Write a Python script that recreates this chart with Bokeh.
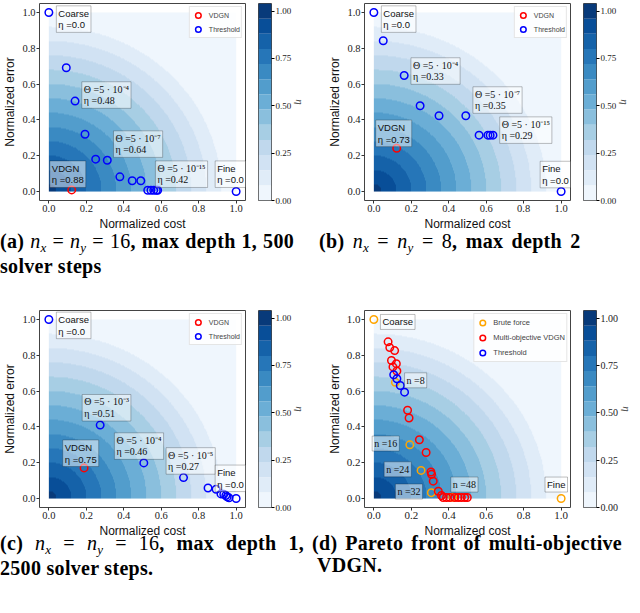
import numpy as np
from bokeh.plotting import figure
from bokeh.layouts import row, column
from bokeh.models import (Label, Legend, LegendItem, LinearColorMapper, FixedTicker,
                          NumeralTickFormatter, Div, Range1d)
from bokeh.embed import file_html
from bokeh.resources import INLINE

# ---------------- data ----------------
# (a) nx = ny = 16, max depth 1, 500 solver steps
a_thr_cost = [0.0, 0.093, 0.140, 0.193, 0.250, 0.312, 0.379, 0.445, 0.491, 0.528, 0.545, 0.560, 0.574, 0.581, 1.0]
a_thr_err = [1.0, 0.691, 0.505, 0.320, 0.181, 0.175, 0.082, 0.060, 0.060, 0.007, 0.007, 0.007, 0.007, 0.007, 0.0]
a_vdgn_cost = [0.122]
a_vdgn_err = [0.009]

# (b) nx = ny = 8, max depth 2
b_thr_cost = [0.0, 0.050, 0.162, 0.247, 0.348, 0.491, 0.562, 0.609, 0.621, 0.636, 1.0]
b_thr_err = [1.0, 0.842, 0.648, 0.479, 0.423, 0.423, 0.315, 0.315, 0.315, 0.315, 0.0]
b_vdgn_cost = [0.122]
b_vdgn_err = [0.242]

# (c) nx = ny = 16, max depth 1, 2500 solver steps
c_thr_cost = [0.0, 0.274, 0.507, 0.719, 0.850, 0.893, 0.919, 0.934, 0.945, 0.952, 0.962, 1.0]
c_thr_err = [1.0, 0.410, 0.199, 0.117, 0.059, 0.052, 0.026, 0.024, 0.017, 0.009, 0.004, 0.0]
c_vdgn_cost = [0.188]
c_vdgn_err = [0.171]

# (d) Pareto front of multi-objective VDGN
d_bf_cost = [0.0, 0.115, 0.192, 0.252, 0.307, 0.421, 1.0]
d_bf_err = [1.0, 0.649, 0.300, 0.157, 0.033, 0.007, 0.0]
d_mo_cost = [0.076, 0.085, 0.111, 0.094, 0.120, 0.102, 0.123, 0.180, 0.188, 0.243, 0.279,
             0.305, 0.308, 0.317, 0.344, 0.361, 0.370, 0.388, 0.406, 0.432, 0.450, 0.467, 0.485, 0.499]
d_mo_err = [0.875, 0.843, 0.826, 0.771, 0.753, 0.735, 0.712, 0.493, 0.450, 0.328, 0.257,
            0.148, 0.135, 0.097, 0.041, 0.017, 0.006, 0.006, 0.006, 0.006, 0.006, 0.006, 0.006, 0.006]
d_thr_cost = [0.106, 0.123, 0.141, 0.164]
d_thr_err = [0.691, 0.669, 0.631, 0.594]

axis_ticks = [0.0, 0.2, 0.4, 0.6, 0.8, 1.0]
cbar_ticks = [0.0, 0.25, 0.5, 0.75, 1.0]
levels = [0.0, 0.08, 0.16, 0.24, 0.32, 0.40, 0.48, 0.56, 0.64, 0.72, 0.80, 0.88, 0.96, 1.04]

# ---------------- style ----------------
SANS = "Liberation Sans"
SERIF = "Liberation Serif"
FW, FH = 206, 197

blues_anchor = np.array([[247, 251, 255], [222, 235, 247], [198, 219, 239], [158, 202, 225],
                         [107, 174, 214], [66, 146, 198], [33, 113, 181], [8, 81, 156], [8, 48, 107]], float)


def blues(t):
    pos = np.linspace(0, 1, len(blues_anchor))
    rgb = [np.interp(t, pos, blues_anchor[:, k]) for k in range(3)]
    return "#%02x%02x%02x" % tuple(int(round(v)) for v in rgb)


nb = len(levels) - 1
palette = [blues((i + 0.5) / nb) for i in range(nb)]
mapper = LinearColorMapper(palette=palette, low=levels[0], high=levels[-1])

# eta = 1 - distance to the ideal point (0, 0)
g = np.linspace(0, 1, 600)
GX, GY = np.meshgrid(g, g)
ETA = 1.0 - np.sqrt(GX ** 2 + GY ** 2)


def style_axis(ax, tick_size, label_size):
    ax.ticker = FixedTicker(ticks=axis_ticks)
    ax.formatter = NumeralTickFormatter(format="0.0")
    ax.major_label_text_font = SERIF
    ax.major_label_text_font_size = tick_size
    ax.major_label_text_color = "#222222"
    ax.axis_label_text_font = SANS
    ax.axis_label_text_font_size = label_size
    ax.axis_label_text_font_style = "normal"
    ax.axis_label_text_color = "#111111"
    ax.major_tick_out = 3
    ax.major_tick_in = 0
    ax.minor_tick_out = 0
    ax.minor_tick_in = 0
    ax.major_tick_line_color = "#333333"
    ax.axis_line_color = None
    ax.major_label_standoff = 1
    ax.axis_label_standoff = 2


def make_panel(series, boxes, L, T, B, tick_size="10.5px", label_size="12px",
               legend_size="7px", cb_tick="9px", legend_h=14):
    p = figure(frame_width=FW, frame_height=FH,
               x_range=Range1d(-0.05, 1.05), y_range=Range1d(-0.05, 1.05),
               min_border_left=L, min_border_right=7, min_border_top=T, min_border_bottom=B,
               output_backend="svg", toolbar_location=None)
    p.grid.visible = False
    p.outline_line_color = "#444444"
    p.outline_line_width = 1
    p.background_fill_color = "white"
    p.image(image=[ETA], x=0, y=0, dw=1, dh=1, color_mapper=mapper)
    items = []
    for name, xs, ys, color in series:
        r = p.scatter(xs, ys, marker="circle", size=7.5, fill_color=None,
                      line_color=color, line_width=1.5)
        items.append(LegendItem(label=name, renderers=[r]))
    for bx, by, text, kind in boxes:
        p.add_layout(Label(x=bx, y=by, text=text, anchor="top_left",
                           text_font=SANS if kind == "sans" else SERIF,
                           text_font_size="9.5px" if kind == "sans" else "10px",
                           text_line_height=1.05, text_color="#111111",
                           background_fill_color="white", background_fill_alpha=0.5,
                           border_line_color="#000000", border_line_alpha=0.25,
                           padding=2))
    legend = Legend(items=items, location="top_right", label_text_font=SANS,
                    label_text_font_size=legend_size, label_height=legend_h,
                    glyph_height=legend_h, glyph_width=14, spacing=-4, padding=1, margin=3,
                    label_standoff=4, border_line_color="#cccccc",
                    background_fill_alpha=0.85)
    p.add_layout(legend)
    style_axis(p.xaxis[0], tick_size, label_size)
    style_axis(p.yaxis[0], tick_size, label_size)
    p.xaxis.axis_label = "Normalized cost"
    p.yaxis.axis_label = "Normalized error"

    cb = figure(frame_width=13, frame_height=FH,
                x_range=Range1d(0, 1), y_range=Range1d(levels[0], levels[-1]),
                y_axis_location="right",
                min_border_left=6, min_border_right=33, min_border_top=T, min_border_bottom=B,
                output_backend="svg", toolbar_location=None)
    cb.grid.visible = False
    cb.xaxis.visible = False
    cb.outline_line_color = "#444444"
    cb.quad(left=0, right=1, bottom=levels[:-1], top=levels[1:], fill_color=palette,
            line_color=None)
    ya = cb.yaxis[0]
    ya.ticker = FixedTicker(ticks=cbar_ticks)
    ya.formatter = NumeralTickFormatter(format="0.00")
    ya.major_label_text_font = SERIF
    ya.major_label_text_font_size = cb_tick
    ya.major_label_text_color = "#222222"
    ya.major_tick_out = 3
    ya.major_tick_in = 0
    ya.minor_tick_out = 0
    ya.minor_tick_in = 0
    ya.axis_line_color = None
    ya.major_label_standoff = 1
    ya.axis_label = "η"
    ya.axis_label_text_font = SERIF
    ya.axis_label_text_font_style = "italic"
    ya.axis_label_text_font_size = "11px"
    ya.axis_label_standoff = 0
    return p, cb


RED, BLUE, ORANGE = "#ff0000", "#0000ff", "#ffa500"

pa, cba = make_panel(
    [("VDGN", a_vdgn_cost, a_vdgn_err, RED), ("Threshold", a_thr_cost, a_thr_err, BLUE)],
    [(0.040, 1.037, "Coarse\nη =0.0", "sans"),
     (0.176, 0.613, "Θ =5 · 10⁻⁴\nη =0.48", "serif"),
     (0.345, 0.339, "Θ =5 · 10⁻⁷\nη =0.64", "serif"),
     (0.005, 0.171, "VDGN\nη =0.88", "sans"),
     (0.569, 0.171, "Θ =5 · 10⁻¹⁵\nη =0.42", "serif"),
     (0.888, 0.171, "Fine\nη =0.0", "sans")],
    L=36, T=3, B=32)

pb, cbb = make_panel(
    [("VDGN", b_vdgn_cost, b_vdgn_err, RED), ("Threshold", b_thr_cost, b_thr_err, BLUE)],
    [(0.040, 1.037, "Coarse\nη =0.0", "sans"),
     (0.198, 0.747, "Θ =5 · 10⁻⁴\nη =0.33", "serif"),
     (0.529, 0.585, "Θ =5 · 10⁻⁷\nη =0.35", "serif"),
     (0.672, 0.417, "Θ =5 · 10⁻¹⁵\nη =0.29", "serif"),
     (0.010, 0.399, "VDGN\nη =0.73", "sans"),
     (0.888, 0.169, "Fine\nη =0.0", "sans")],
    L=55, T=3, B=32)

pc, cbc = make_panel(
    [("VDGN", c_vdgn_cost, c_vdgn_err, RED), ("Threshold", c_thr_cost, c_thr_err, BLUE)],
    [(0.040, 1.041, "Coarse\nη =0.0", "sans"),
     (0.178, 0.581, "Θ =5 · 10⁻³\nη =0.51", "serif"),
     (0.074, 0.327, "VDGN\nη =0.75", "sans"),
     (0.350, 0.367, "Θ =5 · 10⁻⁴\nη =0.46", "serif"),
     (0.626, 0.284, "Θ =5 · 10⁻⁵\nη =0.27", "serif"),
     (0.888, 0.187, "Fine\nη =0.0", "sans")],
    L=36, T=3, B=32)

pd_, cbd = make_panel(
    [("Brute force", d_bf_cost, d_bf_err, ORANGE),
     ("Multi-objective VDGN", d_mo_cost, d_mo_err, RED),
     ("Threshold", d_thr_cost, d_thr_err, BLUE)],
    [(0.035, 1.028, "Coarse", "sans"),
     (0.164, 0.702, "n =8", "serif"),
     (-0.009, 0.349, "n =16", "serif"),
     (0.055, 0.205, "n =24", "serif"),
     (0.115, 0.081, "n =32", "serif"),
     (0.411, 0.120, "n =48", "serif"),
     (0.914, 0.120, "Fine", "sans")],
    L=55, T=3, B=32, tick_size="11px", cb_tick="10px", legend_size="7.5px", legend_h=15)

CAP = ("font-family:'Liberation Serif',serif;font-weight:bold;font-size:20px;"
       "line-height:22px;color:#000;letter-spacing:0.3px;")
J = "text-align:justify;text-align-last:justify;"
SUB = '<span style="font-size:13px;position:relative;top:4px"><i>%s</i></span>'


def nn(v):
    return ('<span style="font-weight:normal"><i>n</i>' + SUB % "x" + ' = <i>n</i>'
            + SUB % "y" + ' = ' + v + '</span>')


cap_a = Div(text='<div style="' + CAP + 'margin-top:-3px;width:294px">'
            '<div style="' + J + '">(a) ' + nn("16") + ', max depth 1, 500</div>'
            '<div>solver steps</div></div>', width=306, height=74, margin=(0, 0, 0, 0))
cap_b = Div(text='<div style="' + CAP + 'margin-top:-3px;margin-left:13px;word-spacing:3px">'
            '(b) ' + nn("8") + ', max depth 2</div>', width=318, height=74, margin=(0, 0, 0, 0))
cap_c = Div(text='<div style="' + CAP + 'margin-top:-8px;width:304px">'
            '<div style="' + J + '">(c) ' + nn("16") + ', max depth 1,</div>'
            '<div>2500 solver steps.</div></div>', width=306, height=60, margin=(0, 0, 0, 0))
cap_d = Div(text='<div style="' + CAP + 'margin-top:-8px;width:310px;margin-left:6px">'
            '<div style="' + J + '">(d) Pareto front of multi-objective</div>'
            '<div style="padding-left:5px">VDGN.</div></div>', width=318, height=60,
            margin=(0, 0, 0, 0))

layout = column(row(pa, cba, pb, cbb), row(cap_a, cap_b),
                row(pc, cbc, pd_, cbd), row(cap_c, cap_d))

open("out.html", "w").write(file_html(layout, INLINE))
